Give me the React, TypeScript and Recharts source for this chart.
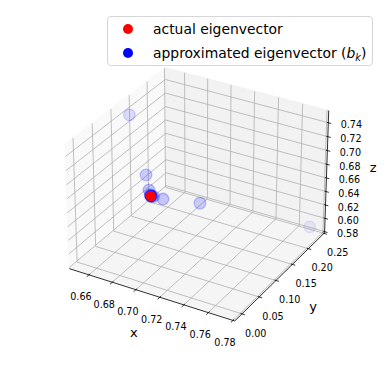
import * as React from 'react'
import { ScatterChart, Scatter, XAxis, YAxis, Legend } from 'recharts'

const WIDTH = 389
const HEIGHT = 389

// 3D box limits (pane edges)
const X_LIM = [0.643, 0.7814]
const Y_LIM = [-0.0207, 0.2519]
const Z_LIM = [0.5783, 0.7573]

const X_TICKS = [0.66, 0.68, 0.7, 0.72, 0.74, 0.76, 0.78]
const Y_TICKS = [0.0, 0.05, 0.1, 0.15, 0.2, 0.25]
const Z_TICKS = [0.58, 0.6, 0.62, 0.64, 0.66, 0.68, 0.7, 0.72, 0.74]

// actual eigenvector
const ACTUAL_X = [0.7071]
const ACTUAL_Y = [0.0]
const ACTUAL_Z = [0.7071]

// power iteration b_k
const APPROX_X = [0.7724, 0.654, 0.7294, 0.6948, 0.7133, 0.7035, 0.7084, 0.7062, 0.7075, 0.7069, 0.7072, 0.7071]
const APPROX_Y = [0.2379, 0.115, 0.0605, 0.0276, 0.0125, 0.007, 0.0031, 0.0015, 0.0008, 0.0004, 0.0002, 0.0001]
const APPROX_Z = [0.5889, 0.748, 0.6815, 0.7186, 0.7005, 0.7107, 0.7058, 0.708, 0.7067, 0.7073, 0.707, 0.7071]

const SERIES_NAMES = ['actual eigenvector', 'approximated eigenvector']
const AXIS_NAMES = ['x', 'y', 'z']

const FONT = '"DejaVu Sans", sans-serif'

// camera, like matplotlib's default view (elev 30, azim -60)
const VIEW = { elev: 30, azim: -60, dist: 13 }
const BOX_ASPECT = [1.1429, 1.1429, 0.8571]
const SCREEN = { cx: 198.7, cy: 189.8, scale: 2160 }

type Vec = number[]
const cross = (a: Vec, b: Vec) => [
  a[1] * b[2] - a[2] * b[1],
  a[2] * b[0] - a[0] * b[2],
  a[0] * b[1] - a[1] * b[0],
]
const dot = (a: Vec, b: Vec) => a[0] * b[0] + a[1] * b[1] + a[2] * b[2]
const unit = (a: Vec) => {
  const l = Math.hypot(a[0], a[1], a[2])
  return a.map((v) => v / l)
}

const elevRad = (VIEW.elev * Math.PI) / 180
const azimRad = (VIEW.azim * Math.PI) / 180
const W_AX = [Math.cos(elevRad) * Math.cos(azimRad), Math.cos(elevRad) * Math.sin(azimRad), Math.sin(elevRad)]
const U_AX = unit(cross([0, 0, 1], W_AX))
const V_AX = cross(W_AX, U_AX)
const LIMS = [X_LIM, Y_LIM, Z_LIM]

function project(x: number, y: number, z: number) {
  const d = [x, y, z].map(
    (val, i) => ((val - LIMS[i][0]) / (LIMS[i][1] - LIMS[i][0]) - 0.5) * BOX_ASPECT[i]
  )
  const depth = dot(W_AX, d)
  const k = SCREEN.scale / (VIEW.dist - depth)
  return { px: SCREEN.cx + dot(U_AX, d) * k, py: SCREEN.cy - dot(V_AX, d) * k, depth }
}

const [x0, x1] = X_LIM
const [y0, y1] = Y_LIM
const [z0, z1] = Z_LIM

const PANES = [
  { fill: '#f9f9f9', corners: [[x0, y0, z0], [x0, y1, z0], [x0, y1, z1], [x0, y0, z1]] },
  { fill: '#f2f2f2', corners: [[x0, y1, z0], [x1, y1, z0], [x1, y1, z1], [x0, y1, z1]] },
  { fill: '#f5f5f5', corners: [[x0, y0, z0], [x1, y0, z0], [x1, y1, z0], [x0, y1, z0]] },
]

// each gridline runs across two panes: 3 points
const gridData = [
  ...X_TICKS.flatMap((t) => [[t, y0, z0], [t, y1, z0], [t, y1, z1]]),
  ...Y_TICKS.flatMap((t) => [[x1, t, z0], [x0, t, z0], [x0, t, z1]]),
  ...Z_TICKS.flatMap((t) => [[x0, y0, t], [x0, y1, t], [x1, y1, t]]),
].map((p) => project(p[0], p[1], p[2]))

const axisLineData = [
  [x0, y0, z0], [x1, y0, z0],
  [x1, y0, z0], [x1, y1, z0],
  [x1, y1, z0], [x1, y1, z1],
].map((p) => project(p[0], p[1], p[2]))

function tickPoint(p: Vec, dir: Vec, label: string, ox: number, oy: number) {
  const a = project(p[0], p[1], p[2])
  const b = project(p[0] + dir[0], p[1] + dir[1], p[2] + dir[2])
  const len = Math.hypot(b.px - a.px, b.py - a.py)
  return { ...a, ux: (b.px - a.px) / len, uy: (b.py - a.py) / len, label, ox, oy }
}

const tickData = [
  ...X_TICKS.map((t) => tickPoint([t, y0, z0], [0, -0.01, 0], t.toFixed(2), -8, 22)),
  ...Y_TICKS.map((t) => tickPoint([x1, t, z0], [0.01, 0, 0], t.toFixed(2), 13.8, 19.3)),
  ...Z_TICKS.map((t) => tickPoint([x1, y1, t], [0.01, 0, 0], t.toFixed(2), 23, 2)),
]

const axisLabelData = [
  { ...project((x0 + x1) / 2, y0, z0), label: AXIS_NAMES[0], ox: -16.5, oy: 38.5 },
  { ...project(x1, (y0 + y1) / 2, z0), label: AXIS_NAMES[1], ox: 32, oy: 31.5 },
  { ...project(x1, y1, (z0 + z1) / 2), label: AXIS_NAMES[2], ox: 46.5, oy: -5.5 },
]

const actualData = ACTUAL_X.map((x, i) => project(x, ACTUAL_Y[i], ACTUAL_Z[i]))

const approxRaw = APPROX_X.map((x, i) => project(x, APPROX_Y[i], APPROX_Z[i]))
const dMin = Math.min(...approxRaw.map((p) => p.depth))
const dMax = Math.max(...approxRaw.map((p) => p.depth))
// depth shading: far points fade to 30%
const approxData = approxRaw
  .map((p) => ({ ...p, shade: 1 - (0.7 * (dMax - p.depth)) / (dMax - dMin) }))
  .sort((a, b) => a.depth - b.depth)

const NoShape = () => <g />

function polylines(n: number, stroke: string, width: number) {
  // eslint-disable-next-line @typescript-eslint/no-explicit-any
  return (props: any) => {
    const pts = props.points || []
    let d = ''
    pts.forEach((p: { x: number; y: number }, i: number) => {
      d += `${i % n === 0 ? 'M' : 'L'}${p.x},${p.y}`
    })
    return <path d={d} fill="none" stroke={stroke} strokeWidth={width} />
  }
}

function paneShape(fill: string) {
  // eslint-disable-next-line @typescript-eslint/no-explicit-any
  return (props: any) => {
    const pts = props.points || []
    const d = pts.map((p: { x: number; y: number }, i: number) => `${i ? 'L' : 'M'}${p.x},${p.y}`).join('') + 'Z'
    return <path d={d} fill={fill} stroke={fill} strokeWidth={1} />
  }
}

// eslint-disable-next-line @typescript-eslint/no-explicit-any
function TickShape(props: any) {
  const { cx, cy, payload } = props
  const { ux, uy, label, ox, oy } = payload
  return (
    <g>
      <line
        x1={cx - ux * 1.5}
        y1={cy - uy * 1.5}
        x2={cx + ux * 3}
        y2={cy + uy * 3}
        stroke="#000"
        strokeWidth={0.8}
      />
      <text
        x={cx + ox}
        y={cy + oy}
        textAnchor="middle"
        dominantBaseline="central"
        fontFamily={FONT}
        fontSize={9.6}
        fill="#000"
      >
        {label}
      </text>
    </g>
  )
}

// eslint-disable-next-line @typescript-eslint/no-explicit-any
function AxisLabelShape(props: any) {
  const { cx, cy, payload } = props
  return (
    <text
      x={cx + payload.ox}
      y={cy + payload.oy}
      textAnchor="middle"
      dominantBaseline="central"
      fontFamily={FONT}
      fontSize={13}
      fill="#000"
    >
      {payload.label}
    </text>
  )
}

// eslint-disable-next-line @typescript-eslint/no-explicit-any
function BluePoint(props: any) {
  const { cx, cy, payload } = props
  return (
    <circle
      cx={cx}
      cy={cy}
      r={5.8}
      fill="#0000ff"
      fillOpacity={0.2 * payload.shade}
      stroke="#0000ff"
      strokeOpacity={0.25 * payload.shade}
      strokeWidth={1.3}
    />
  )
}

// eslint-disable-next-line @typescript-eslint/no-explicit-any
function RedPoint(props: any) {
  return <circle cx={props.cx} cy={props.cy} r={5.1} fill="#ff0000" />
}

function LegendBox() {
  const dot = (color: string, top: number) => (
    <span
      style={{
        position: 'absolute',
        left: 15.3,
        top: top - 5,
        width: 10,
        height: 10,
        borderRadius: '50%',
        background: color,
      }}
    />
  )
  const row = (top: number, children: React.ReactNode) => (
    <div
      style={{
        position: 'absolute',
        left: 45,
        top: top - 10,
        height: 20,
        lineHeight: '20px',
        whiteSpace: 'nowrap',
      }}
    >
      {children}
    </div>
  )
  return (
    <div
      style={{
        position: 'relative',
        boxSizing: 'border-box',
        width: 266,
        height: 50,
        border: '1px solid #d6d6d6',
        borderRadius: 4,
        background: 'rgba(255,255,255,0.8)',
        fontFamily: FONT,
        fontSize: 13.9,
        color: '#000',
      }}
    >
      {dot('#ff0000', 12.3)}
      {row(12.3, SERIES_NAMES[0])}
      {dot('#0000ff', 35.7)}
      {row(
        35.7,
        <>
          {SERIES_NAMES[1]} (<i>b</i>
          <i style={{ fontSize: '70%', position: 'relative', top: 3 }}>k</i>)
        </>
      )}
    </div>
  )
}

export default function App() {
  return (
    <div style={{ position: 'absolute', left: 0, top: 0, width: WIDTH, height: HEIGHT, background: '#fff' }}>
      <ScatterChart width={WIDTH} height={HEIGHT} margin={{ top: 0, right: 0, bottom: 0, left: 0 }}>
        <XAxis type="number" dataKey="px" domain={[0, WIDTH]} allowDataOverflow hide />
        <YAxis type="number" dataKey="py" domain={[0, HEIGHT]} reversed allowDataOverflow hide />
        {PANES.map((pane, i) => (
          <Scatter
            key={`pane-${i}`}
            data={pane.corners.map((c) => project(c[0], c[1], c[2]))}
            shape={NoShape}
            line={paneShape(pane.fill)}
            legendType="none"
            isAnimationActive={false}
          />
        ))}
        <Scatter
          data={gridData}
          shape={NoShape}
          line={polylines(3, '#b0b0b0', 0.8)}
          legendType="none"
          isAnimationActive={false}
        />
        <Scatter
          data={axisLineData}
          shape={NoShape}
          line={polylines(2, '#000', 0.8)}
          legendType="none"
          isAnimationActive={false}
        />
        <Scatter data={tickData} shape={TickShape} legendType="none" isAnimationActive={false} />
        <Scatter data={axisLabelData} shape={AxisLabelShape} legendType="none" isAnimationActive={false} />
        <Scatter
          name={SERIES_NAMES[1]}
          data={approxData}
          shape={BluePoint}
          fill="#0000ff"
          isAnimationActive={false}
        />
        <Scatter
          name={SERIES_NAMES[0]}
          data={actualData}
          shape={RedPoint}
          fill="#ff0000"
          isAnimationActive={false}
        />
        <Legend
          layout="horizontal"
          verticalAlign="middle"
          align="center"
          wrapperStyle={{ position: 'absolute', top: 16, left: 107, width: 266, height: 50 }}
          content={() => <LegendBox />}
        />
      </ScatterChart>
    </div>
  )
}
